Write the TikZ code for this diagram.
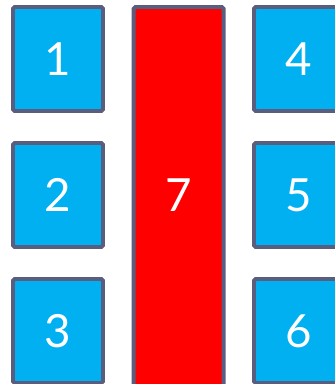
\documentclass[tikz,border=0pt]{standalone}
\usepackage{fontspec}
\setmainfont{Lato}
\definecolor{cellblue}{HTML}{00B0F0}
\definecolor{cellline}{HTML}{5A5E7E}
\definecolor{cellred}{HTML}{FF0000}
\tikzset{
	cell/.style={draw=cellline, line width=3.4pt, rounded corners=1.5pt, fill=cellblue,
		minimum width=2.7cm, minimum height=3.12cm, inner sep=0pt,
		text=white, font=\fontsize{39}{39}\selectfont},
	bigcell/.style={cell, fill=cellred, minimum height=12.4cm},
	num/.style={text=white, font=\fontsize{39}{39}\selectfont, inner sep=0pt}
}
\begin{document}
\begin{tikzpicture}[x=0.03cm,y=-0.03cm]
	\clip (0,0) rectangle (335,384);
	\useasboundingbox (0,0) rectangle (335,384);

	% left column
	\node[cell] (c1) at (58,59) {1};
	\node[cell] (c2) at (58,195) {2};
	\node[cell] (c3) at (58,331) {3};

	% middle column
	\node[bigcell] (c7) at (178.7,213.7) {};
	\node[num] (t7) at (178.7,195) {7};

	% right column
	\node[cell] (c4) at (299,59) {4};
	\node[cell] (c5) at (299,195) {5};
	\node[cell] (c6) at (299,331) {6};
\end{tikzpicture}
\end{document}
